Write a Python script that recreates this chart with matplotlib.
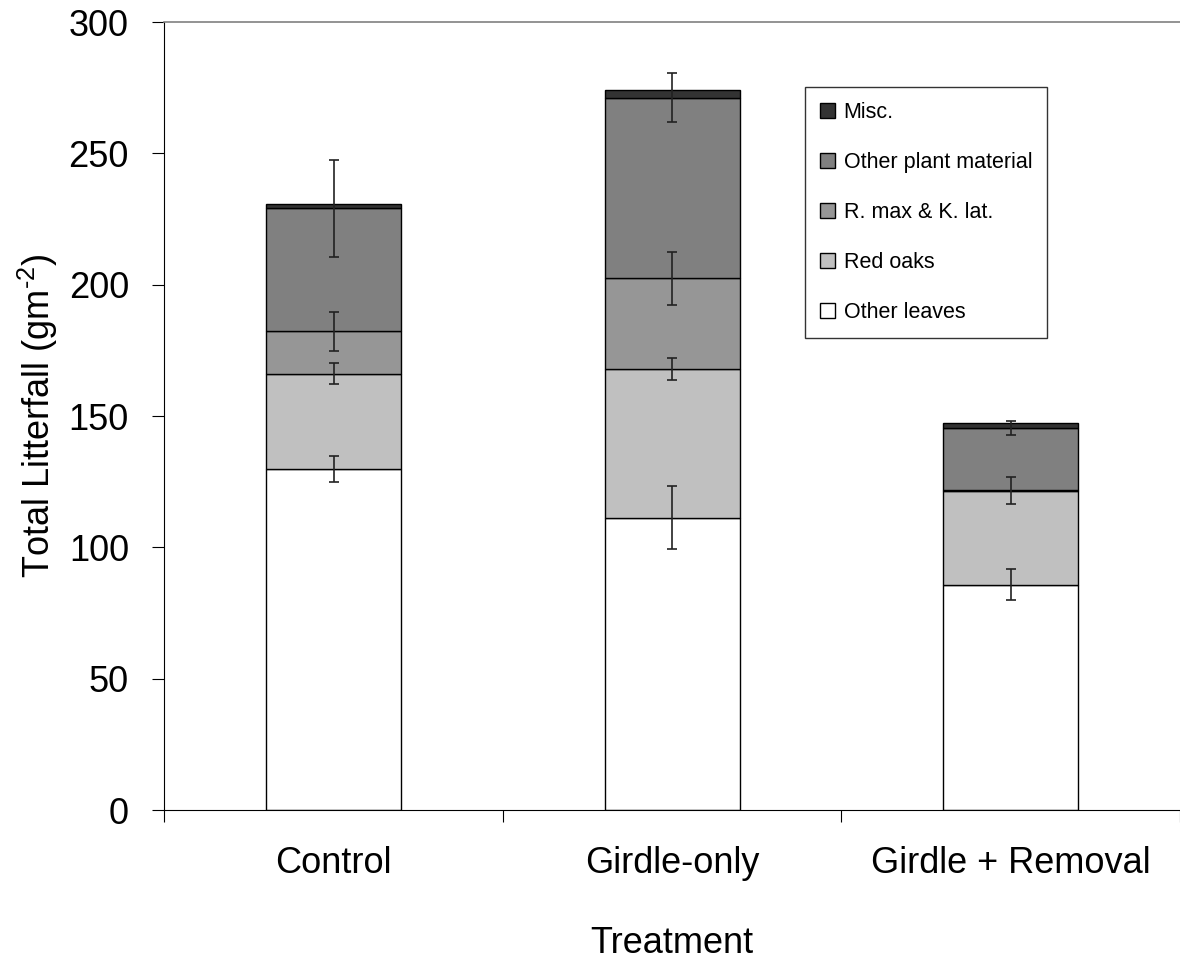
import numpy as np
import matplotlib.pyplot as plt

plt.rcParams['font.family'] = ['Liberation Sans', 'DejaVu Sans']
plt.rcParams['mathtext.fontset'] = 'custom'
plt.rcParams['mathtext.rm'] = 'Liberation Sans'
plt.rcParams['mathtext.it'] = 'Liberation Sans'

# litterfall by component (g m-2), stacked from the bottom up
treatments = ['Control', 'Girdle-only', 'Girdle + Removal']
other_leaves = [129.7, 111.3, 85.8]
red_oaks = [36.3, 56.6, 35.8]
rmax_klat = [16.3, 34.5, 0.3]
other_plant = [46.7, 68.8, 23.5]
misc = [1.9, 2.9, 2.1]

# standard errors, drawn at the top of each segment
err_other_leaves = [5.0, 12.0, 6.0]
err_red_oaks = [4.0, 4.3, 5.0]
err_rmax = [7.4, 10.2, 0.0]
err_other_plant = [18.5, 9.3, 2.8]

layers = [
    ('Other leaves', other_leaves, err_other_leaves, '#ffffff'),
    ('Red oaks', red_oaks, err_red_oaks, '#c0c0c0'),
    ('R. max & K. lat.', rmax_klat, err_rmax, '#969696'),
    ('Other plant material', other_plant, err_other_plant, '#808080'),
    ('Misc.', misc, None, '#333333'),
]

fig = plt.figure(figsize=(11.8, 9.65), dpi=100)
ax = fig.add_axes([0.1394, 0.1606, 0.8606, 0.8166])

x = np.arange(len(treatments))
bottom = np.zeros(len(treatments))
handles = []
for name, vals, errs, color in layers:
    vals = np.array(vals)
    b = ax.bar(x, vals, width=0.4, bottom=bottom, color=color,
               edgecolor='black', linewidth=1.0, label=name, zorder=2)
    handles.append(b)
    top = bottom + vals
    if errs is not None:
        errs = np.array(errs)
        keep = errs > 0
        ax.errorbar(x[keep], top[keep], yerr=errs[keep], fmt='none',
                    ecolor='#222222', elinewidth=1.2, capsize=3.6,
                    capthick=1.2, zorder=3)
    bottom = top

ax.set_xlim(-0.5, 2.5)
ax.set_ylim(0, 300)
ax.set_yticks(range(0, 301, 50))

# category boundaries get the ticks, names sit at the centres
ax.set_xticks([-0.5, 0.5, 1.5, 2.5])
ax.set_xticklabels([])
ax.set_xticks(x, minor=True)
ax.set_xticklabels(treatments, minor=True)
ax.tick_params(axis='x', which='major', direction='out', length=8.6, width=0.8)
ax.tick_params(axis='x', which='minor', length=0, pad=26, labelsize=26)
ax.tick_params(axis='y', direction='out', length=8.6, width=0.8, pad=17,
               labelsize=26)

ax.spines['left'].set_color('black')
ax.spines['bottom'].set_color('black')
ax.spines['top'].set_color('#808080')
ax.spines['top'].set_linewidth(1.2)
ax.spines['right'].set_visible(False)

ax.set_ylabel(r'Total Litterfall (gm$^{\text{-2}}$)', fontsize=26)
ax.yaxis.set_label_coords(-0.103, 0.5)
ax.set_xlabel('Treatment', fontsize=26, va='top')
ax.xaxis.set_label_coords(0.5, -0.147)

leg = ax.legend(handles[::-1], [h.get_label() for h in handles[::-1]],
                loc='upper left', bbox_to_anchor=(0.6307, 0.918),
                borderaxespad=0, fontsize=15.5, frameon=True, fancybox=False,
                edgecolor='black', handlelength=0.7, handleheight=0.7,
                handletextpad=0.4, labelspacing=1.35, borderpad=0.7)
leg.get_frame().set_linewidth(1.0)

fig.savefig('out.png', dpi=100)
